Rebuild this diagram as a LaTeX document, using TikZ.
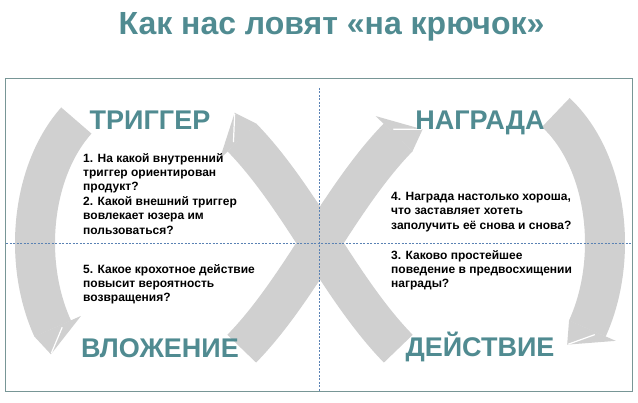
\documentclass[tikz,border=0pt]{standalone}
\usepackage{fontspec}
\setmainfont{Liberation Sans}
\usetikzlibrary{decorations.markings}
\definecolor{hteal}{RGB}{80,139,145}
\definecolor{bandgray}{RGB}{208,208,208}
\definecolor{framecol}{RGB}{120,150,150}
\definecolor{dashcol}{RGB}{90,130,180}
\tikzset{
  declare function={lx(\t)=320+285*cos(\t)/(1+sin(\t)*sin(\t));
                    ly(\t)=160+440*sin(\t)*cos(\t)/(1+sin(\t)*sin(\t));},
  hookhead/.style={postaction={decorate}, decoration={markings,
     mark=at position 0.999 with {
       \fill[bandgray] (0,-20) -- (0,31) -- (23,-12) -- cycle;
       \draw[white, line width=1.2pt, line cap=round] (22,-11) -- (3,9);
     }}},
  bandline/.style={line width=40pt, bandgray, line cap=butt, hookhead},
  guide/.style={dashcol, line width=0.6pt, dash pattern=on 2pt off 1.5pt},
  stage/.style={font=\bfseries\fontsize{27}{30}\selectfont, text=hteal, inner sep=0pt},
  body/.style={font=\bfseries\fontsize{12}{14.4}\selectfont, align=left, inner sep=0pt, anchor=north west},
}
\begin{document}
\begin{tikzpicture}[x=1pt,y=1pt]
\useasboundingbox (0,0) rectangle (638,403);
\fill[white] (0,0) rectangle (638,403);
% bands of the loop
\draw[bandline] plot[domain=0:1, samples=60, variable=\u] ({lx(199-31*\u)}, {ly(199-31*\u)});
\draw[bandline] plot[domain=0:1, samples=80, variable=\u] ({lx(119-58*\u)}, {ly(119-58*\u)});
\draw[bandline] plot[domain=0:1, samples=60, variable=\u] ({lx(21-33*\u)}, {ly(21-33*\u)});
\draw[bandline] plot[domain=0:1, samples=80, variable=\u] ({lx(-61-58*\u)}, {ly(-61-58*\u)});
% frame and guides
\draw[framecol, line width=1pt] (5,324) rectangle (632,11);
\coordinate (vt) at (319,315);
\coordinate (vb) at (319,12);
\coordinate (hl) at (6,160);
\coordinate (hr) at (631,160);
\draw[guide] (vt) -- (vb);
\draw[guide] (hl) -- (hr);
% title
\node[font=\bfseries\fontsize{32}{36}\selectfont, text=hteal, anchor=base] (title) at (331.5,368) {Как нас ловят «на крючок»};
% stage labels
\node[stage, anchor=base] (trig) at (150,273) {ТРИГГЕР};
\node[stage, anchor=base] (rew) at (480,273) {НАГРАДА};
\node[stage, anchor=base] (inv) at (160,45) {ВЛОЖЕНИЕ};
\node[stage, anchor=base] (act) at (480,46) {ДЕЙСТВИЕ};
% questions
\node[body] (q12) at (83,250) {1. На какой внутренний\\триггер ориентирован\\продукт?\\2. Какой внешний триггер\\вовлекает юзера им\\пользоваться?};
\node[body] (q4) at (391,211) {4. Награда настолько хороша,\\что заставляет хотеть\\заполучить её снова и снова?};
\node[body] (q5) at (83,139) {5. Какое крохотное действие\\повысит вероятность\\возвращения?};
\node[body] (q3) at (391,153) {3. Каково простейшее\\поведение в предвосхищении\\награды?};
\end{tikzpicture}
\end{document}
